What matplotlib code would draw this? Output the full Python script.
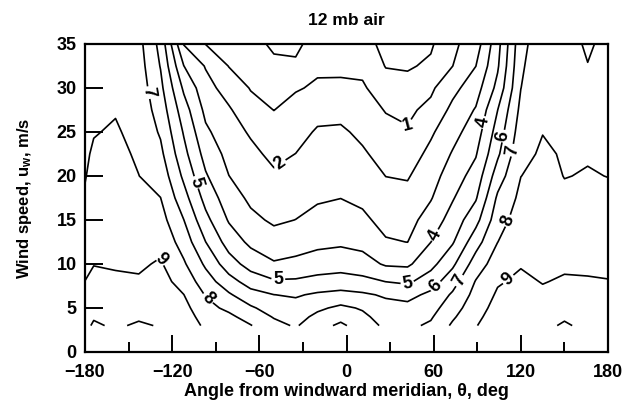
import numpy as np
import matplotlib
matplotlib.use('Agg')
import matplotlib.pyplot as plt

plt.rcParams['font.family'] = ['Liberation Sans', 'DejaVu Sans']
plt.rcParams['font.weight'] = 'bold'
plt.rcParams['axes.labelweight'] = 'bold'
plt.rcParams['mathtext.fontset'] = 'custom'
plt.rcParams['mathtext.rm'] = 'Liberation Sans:bold'
plt.rcParams['mathtext.it'] = 'Liberation Sans:bold'
plt.rcParams['mathtext.bf'] = 'Liberation Sans:bold'

theta = [-180, -174, -159, -143, -128, -112, -97, -81, -66, -50, -35, -20, -4,
         11, 27, 42, 58, 73, 89, 104, 120, 135, 150, 166, 180]
speed = [3, 4, 5, 6.5, 8, 10, 12.5, 15, 17.5, 20, 22.5, 25, 27.5, 30, 32.5, 35]

# field values, one list per angle (bottom -> top in speed)
field_by_angle = [
    [9.8, 9.64, 9.48, 9.24, 9.01, 8.81, 8.57, 8.33, 8.1, 7.95, 7.88, 7.8, 7.73, 7.65, 7.58, 7.5],
    [10.1, 9.93, 9.76, 9.51, 9.25, 8.97, 8.79, 8.62, 8.45, 8.28, 8.1, 7.96, 7.87, 7.78, 7.69, 7.6],
    [9.9, 9.74, 9.59, 9.36, 9.12, 8.93, 8.79, 8.65, 8.51, 8.37, 8.23, 8.08, 7.95, 7.84, 7.72, 7.6],
    [10.1, 9.9, 9.7, 9.4, 9.1, 8.87, 8.65, 8.43, 8.22, 8.01, 7.88, 7.77, 7.65, 7.53, 7.42, 7.3],
    [9.95, 9.83, 9.71, 9.52, 9.34, 9.1, 8.75, 8.37, 8.01, 7.62, 7.23, 6.88, 6.56, 6.25, 5.95, 5.7],
    [9.7, 9.5, 9.3, 9.01, 8.63, 8.13, 7.56, 7.01, 6.38, 5.8, 5.3, 4.91, 4.45, 3.83, 3.01, 1.95],
    [8.8, 8.56, 8.32, 7.94, 7.47, 6.83, 6.01, 5.29, 4.67, 4.11, 3.64, 3.18, 2.76, 2.37, 1.93, 0.98],
    [8.65, 8.22, 7.78, 7.13, 6.4, 5.45, 4.57, 3.91, 3.45, 3.01, 2.71, 2.41, 2.12, 1.57, 0.97, 0.8],
    [8.05, 7.59, 7.14, 6.37, 5.56, 4.6, 3.78, 3.22, 2.82, 2.53, 2.24, 1.89, 1.33, 0.95, 0.83, 0.7],
    [7.3, 6.93, 6.56, 6.01, 5.12, 4.1, 3.39, 2.86, 2.5, 2.14, 1.77, 1.38, 0.99, 0.81, 0.62, 0.4],
    [6.9, 6.63, 6.35, 5.9, 5.14, 4.24, 3.56, 3.01, 2.67, 2.33, 2.01, 1.64, 1.29, 0.93, 0.57, 0.4],
    [7.6, 7.23, 6.82, 6.14, 5.33, 4.46, 3.75, 3.28, 2.89, 2.63, 2.37, 2.11, 1.67, 1.11, 0.87, 0.7],
    [8.2, 7.68, 7.21, 6.29, 5.44, 4.57, 3.84, 3.41, 2.99, 2.71, 2.43, 2.15, 1.71, 1.12, 0.87, 0.7],
    [7.5, 7.22, 6.9, 6.15, 5.29, 4.4, 3.7, 3.2, 2.8, 2.47, 2.13, 1.79, 1.43, 1.07, 0.87, 0.7],
    [6.8, 6.56, 6.32, 5.88, 4.99, 3.88, 3.09, 2.69, 2.34, 1.99, 1.64, 1.29, 0.95, 0.7, 0.48, 0.35],
    [6.8, 6.53, 6.27, 5.71, 4.83, 3.83, 2.99, 2.64, 2.29, 1.92, 1.5, 1.08, 0.83, 0.63, 0.46, 0.35],
    [7.15, 6.89, 6.62, 6.22, 5.53, 4.68, 3.99, 3.44, 2.93, 2.59, 2.26, 1.85, 1.24, 0.83, 0.56, 0.45],
    [8.15, 7.86, 7.57, 7.14, 6.6, 5.8, 4.9, 4.4, 3.92, 3.5, 3.08, 2.67, 2.25, 1.71, 0.99, 0.8],
    [8.95, 8.77, 8.59, 8.32, 8.06, 7.47, 6.6, 5.67, 4.9, 4.4, 3.92, 3.5, 3.08, 2.56, 1.99, 1.5],
    [9.6, 9.47, 9.33, 9.13, 8.9, 8.5, 7.99, 7.58, 7.17, 6.5, 5.83, 5.42, 4.99, 4.29, 3.87, 3.65],
    [9.9, 9.76, 9.61, 9.4, 9.19, 8.93, 8.7, 8.47, 8.23, 7.99, 7.75, 7.5, 7.25, 6.99, 6.85, 6.7],
    [9.8, 9.65, 9.44, 9.16, 8.96, 8.85, 8.7, 8.56, 8.41, 8.26, 8.12, 7.98, 7.89, 7.79, 7.7, 7.6],
    [10.1, 9.9, 9.7, 9.4, 9.1, 8.86, 8.62, 8.38, 8.14, 7.98, 7.93, 7.89, 7.84, 7.79, 7.75, 7.7],
    [9.8, 9.65, 9.5, 9.28, 9.06, 8.87, 8.66, 8.45, 8.25, 8.04, 7.95, 7.9, 7.86, 7.92, 7.98, 8.1],
    [9.7, 9.59, 9.46, 9.25, 9.03, 8.83, 8.6, 8.37, 8.14, 7.99, 7.96, 7.93, 7.89, 7.86, 7.83, 7.8],
]

levels = [0.5, 1, 2, 3, 4, 5, 6, 7, 8, 9, 10]

# where the numbers sit on the lines (level -> list of (angle, speed))
label_spots = {
    1: [(40, 25)],
    2: [(-44, 21)],
    4: [(97, 26), (62, 13.2)],
    5: [(-103, 19.3), (-47, 8.2), (42, 7.7)],
    6: [(109, 24.5), (60, 7.7)],
    7: [(-135, 29.5), (111, 23), (79, 8)],
    8: [(110, 15), (-96, 6)],
    9: [(-128, 10.5), (108, 8.8)],
}

Z = np.array(field_by_angle).T

fig = plt.figure(figsize=(6.26, 4.13), dpi=100)
ax = fig.add_axes([0.1358, 0.1477, 0.8355, 0.7458])

# one contour set per level so each label lands on its own line
for lv in levels:
    cs = ax.contour(theta, speed, Z, levels=[lv], colors='k', linewidths=1.2)
    if lv in label_spots:
        ax.clabel(cs, manual=label_spots[lv], inline=True, inline_spacing=2,
                  fontsize=13, fmt='%d')

ax.set_xlim(-180, 180)
ax.set_ylim(0, 35)
ax.set_xticks(range(-180, 181, 60))
ax.set_xticks(range(-150, 180, 60), minor=True)
ax.set_yticks(range(0, 36, 5))
ax.tick_params(axis='x', which='major', direction='in', length=12, width=1.4,
               labelsize=13, pad=9)
ax.tick_params(axis='x', which='minor', direction='in', length=7, width=1.4)
ax.tick_params(axis='y', which='major', direction='in', length=13, width=1.4,
               labelsize=13, pad=6)
for sp in ax.spines.values():
    sp.set_linewidth(1.6)

ax.set_title('12 mb air', fontsize=12.5, fontweight='bold', pad=14)
ax.set_xlabel('Angle from windward meridian, \u03b8, deg', fontsize=13,
              fontweight='bold', labelpad=1)
ax.set_ylabel(r'Wind speed, u$_{\rm w}$, m/s', fontsize=12,
              fontweight='bold', labelpad=16)

fig.savefig('out.png', dpi=100)
